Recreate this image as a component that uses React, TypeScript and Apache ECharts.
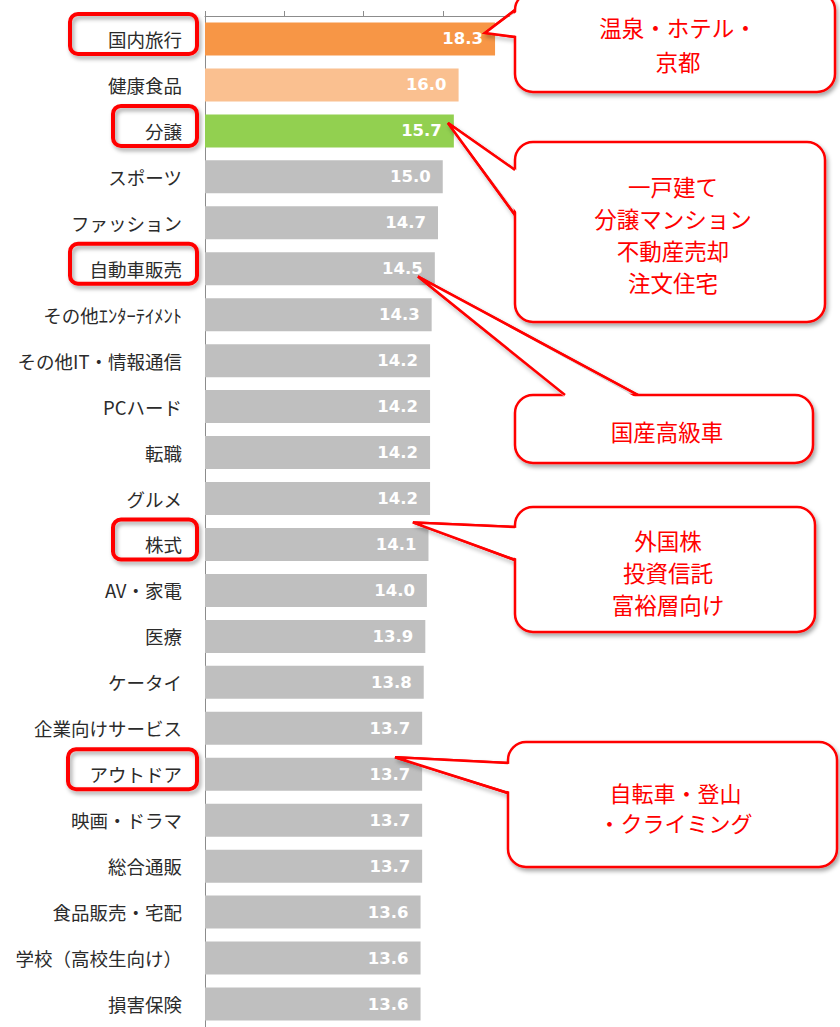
import React, { useEffect, useRef } from "react";
import * as echarts from "echarts";

const categories = [
  "国内旅行", "健康食品", "分譲", "スポーツ", "ファッション", "自動車販売",
  "その他ｴﾝﾀｰﾃｲﾒﾝﾄ", "その他IT・情報通信", "PCハード", "転職", "グルメ", "株式",
  "AV・家電", "医療", "ケータイ", "企業向けサービス", "アウトドア", "映画・ドラマ",
  "総合通販", "食品販売・宅配", "学校（高校生向け）", "損害保険",
];
const values = [
  18.3, 16.0, 15.7, 15.0, 14.7, 14.5, 14.3, 14.2, 14.2, 14.2, 14.2, 14.1,
  14.0, 13.9, 13.8, 13.7, 13.7, 13.7, 13.7, 13.6, 13.6, 13.6,
];
const barColors: Record<string, string> = {
  "国内旅行": "#F79646",
  "健康食品": "#FAC090",
  "分譲": "#92D050",
};
const defaultBarColor = "#BFBFBF";
const tickValues = [0, 5, 10, 15, 20];

// highlighted categories (red boxes around labels)
const boxedLabels = ["国内旅行", "分譲", "自動車販売", "株式", "アウトドア"];
const boxedLeft = [70, 113, 70, 113, 68];

// callouts: text, anchor in data terms [value, row index]
const calloutTexts = [
  "温泉・ホテル・\n京都",
  "一戸建て\n分譲マンション\n不動産売却\n注文住宅",
  "国産高級車",
  "外国株\n投資信託\n富裕層向け",
  "自転車・登山\n・クライミング",
];
const calloutAnchors: [number, number][] = [
  [17.67, -0.13],
  [15.33, 1.83],
  [13.44, 5.17],
  [13.12, 10.52],
  [11.99, 15.63],
];

export default function App() {
  const ref = useRef<HTMLDivElement>(null);
  useEffect(() => {
    if (!ref.current) return;
    const chart = echarts.init(ref.current, null, { renderer: "svg" });
    const red = "#FF0000";
    chart.setOption({
      animation: false,
      grid: { left: 205, top: 16, width: 317, height: 1012 },
      xAxis: {
        type: "value",
        position: "top",
        min: tickValues[0],
        max: tickValues[tickValues.length - 1],
        interval: tickValues[1] - tickValues[0],
        axisLine: { show: true, lineStyle: { color: "#8C8C8C", width: 1 } },
        axisTick: { show: true, length: 5, lineStyle: { color: "#8C8C8C" } },
        axisLabel: { show: false },
        splitLine: { show: false },
      },
      yAxis: {
        type: "category",
        inverse: true,
        data: categories,
        axisLine: { show: true, lineStyle: { color: "#8C8C8C", width: 1 } },
        axisTick: { show: false },
        axisLabel: {
          color: "#2B2B2B",
          fontSize: 18.5,
          fontFamily: "Noto Sans CJK JP",
          margin: 23,
        },
      },
      series: [
        {
          type: "bar",
          barWidth: 33,
          data: values.map((v, i) => ({
            value: v,
            itemStyle: { color: barColors[categories[i]] || defaultBarColor },
          })),
          label: {
            show: true,
            position: "insideRight",
            distance: 12,
            color: "#FFFFFF",
            fontWeight: "bold",
            fontSize: 16.5,
            fontFamily: "DejaVu Sans",
            formatter: (p: any) => Number(p.value).toFixed(1),
          },
        },
      ],
    });

    const rowY = (r: number) => {
      const y0 = chart.convertToPixel({ yAxisIndex: 0 }, 0) as number;
      const y1 = chart.convertToPixel({ yAxisIndex: 0 }, 1) as number;
      return y0 + r * (y1 - y0);
    };
    const valX = (v: number) => chart.convertToPixel({ xAxisIndex: 0 }, v) as number;

    const shadow = {
      shadowBlur: 4,
      shadowOffsetX: 2,
      shadowOffsetY: 3,
      shadowColor: "rgba(0,0,0,0.35)",
    };

    const graphics: any[] = [];
    boxedLabels.forEach((name, k) => {
      const idx = categories.indexOf(name);
      const cy = rowY(idx);
      graphics.push({
        type: "rect",
        z: 50,
        shape: { x: boxedLeft[k], y: cy - 25, width: 197 - boxedLeft[k], height: 40, r: 8 },
        style: { fill: "none", stroke: red, lineWidth: 4, ...shadow },
      });
    });

    const layouts = [
      { box: [515, -8, 320, 100], side: "left", base: [10, 37], lh: 34, fs: 22.5 },
      { box: [515, 142, 310, 180], side: "left", base: [170, 215], lh: 32, fs: 22.5 },
      { box: [515, 395, 298, 68], side: "top", base: [565, 638], lh: 32, fs: 22.5 },
      { box: [515, 507, 300, 125], side: "left", base: [527, 560], lh: 32, fs: 22.5 },
      { box: [508, 742, 329, 125], side: "left", base: [763, 793], lh: 30, fs: 22 },
    ];

    calloutTexts.forEach((txt, k) => {
      const L = layouts[k];
      const [bx, by, bw, bh] = L.box;
      const tip = [valX(calloutAnchors[k][0]), rowY(calloutAnchors[k][1])];
      let p1: number[], p2: number[], q1: number[], q2: number[];
      if (L.side === "left") {
        p1 = [bx, L.base[0]];
        p2 = [bx, L.base[1]];
        q1 = [bx + 3, L.base[0] + 1];
        q2 = [bx + 3, L.base[1] - 1];
      } else {
        p1 = [L.base[0], by];
        p2 = [L.base[1], by];
        q1 = [L.base[0] + 1, by + 3];
        q2 = [L.base[1] - 1, by + 3];
      }
      graphics.push({
        type: "polyline",
        z: 99,
        shape: { points: [p1, tip, p2] },
        style: { stroke: red, lineWidth: 2.5, fill: null, ...shadow },
      });
      graphics.push({
        type: "rect",
        z: 100,
        shape: { x: bx, y: by, width: bw, height: bh, r: 18 },
        style: { fill: "#FFFFFF", stroke: red, lineWidth: 2.5, ...shadow },
      });
      graphics.push({
        type: "polygon",
        z: 101,
        shape: { points: [q1, tip, q2] },
        style: { fill: "#FFFFFF", stroke: null },
      });
      graphics.push({
        type: "polyline",
        z: 102,
        shape: { points: [p1, tip, p2] },
        style: { stroke: red, lineWidth: 2.5, fill: null },
      });
      graphics.push({
        type: "text",
        z: 103,
        x: bx + bw / 2 + 3,
        y: by + bh / 2 + 2,
        style: {
          text: txt,
          fill: red,
          fontSize: L.fs,
          lineHeight: L.lh,
          fontFamily: "Noto Sans CJK JP",
          align: "center",
          verticalAlign: "middle",
        },
      });
    });

    chart.setOption({ graphic: graphics });
    return () => chart.dispose();
  }, []);
  return (
    <div
      ref={ref}
      style={{ position: "absolute", left: 0, top: 0, width: 840, height: 1027 }}
    />
  );
}
